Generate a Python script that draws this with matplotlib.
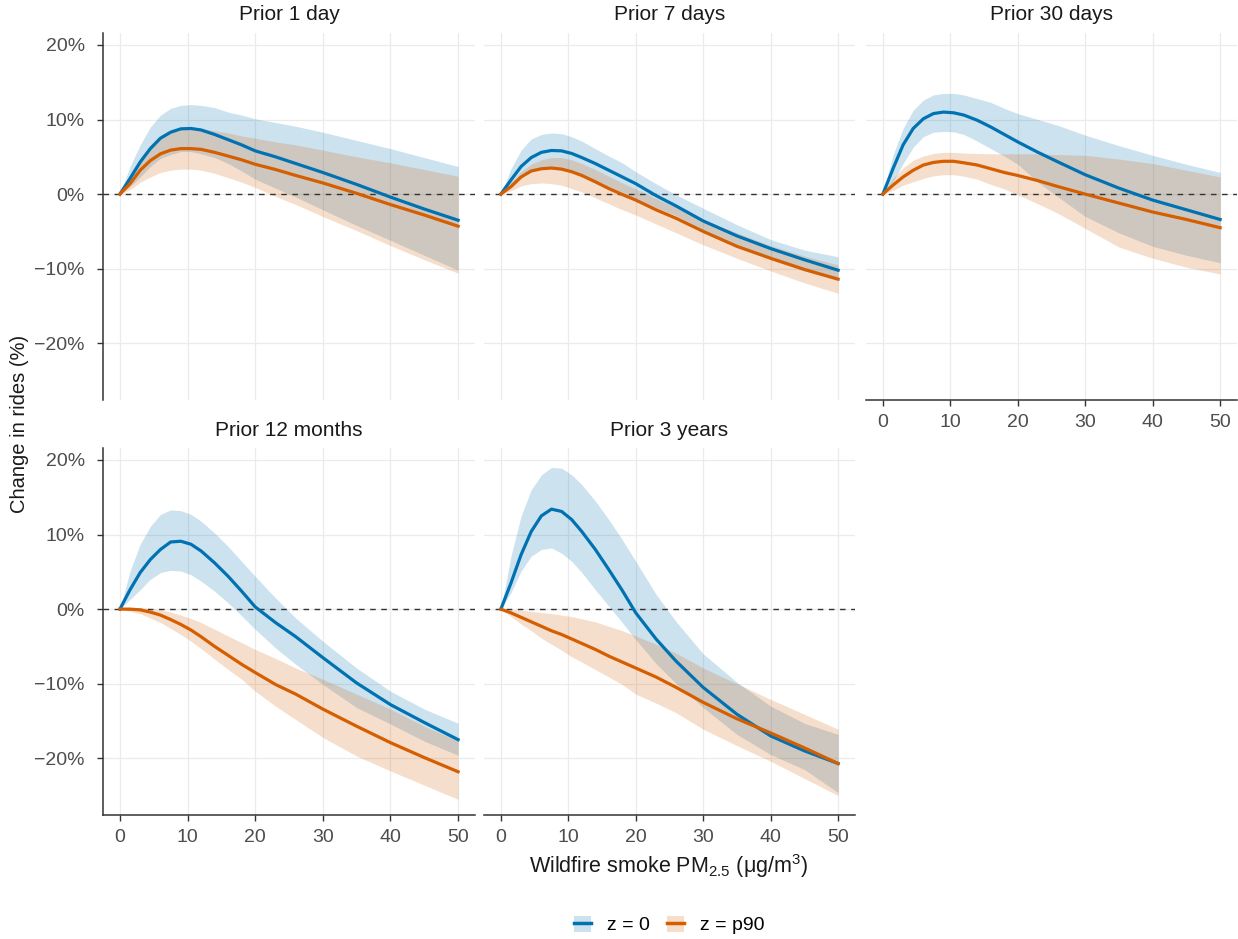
import matplotlib
matplotlib.use('Agg')
import matplotlib.pyplot as plt
from matplotlib.patches import Patch
from matplotlib.lines import Line2D

plt.rcParams['font.family'] = ['Liberation Sans', 'DejaVu Sans']

# smoke PM2.5 values where curves were read
pm = [0, 1.5, 3, 4.5, 6, 7.5, 9, 10.5, 12, 14, 16, 18, 20, 23, 26, 30, 35, 40, 45, 50]

titles = ['Prior 1 day', 'Prior 7 days', 'Prior 30 days', 'Prior 12 months', 'Prior 3 years']

# z = 0 : estimate, lower, upper (%)
z0_fit = [
    [0, 2.1, 4.3, 6.1, 7.5, 8.3, 8.75, 8.8, 8.6, 8.0, 7.3, 6.6, 5.8, 5.0, 4.1, 2.9, 1.3, -0.4, -2.0, -3.5],
    [0, 1.9, 3.7, 4.9, 5.6, 5.85, 5.8, 5.45, 4.9, 4.1, 3.2, 2.3, 1.4, -0.2, -1.6, -3.6, -5.6, -7.3, -8.8, -10.2],
    [0, 3.4, 6.6, 8.8, 10.1, 10.8, 11.0, 10.9, 10.6, 9.9, 9.0, 8.0, 7.0, 5.6, 4.3, 2.6, 0.8, -0.8, -2.1, -3.4],
    [0, 2.6, 4.9, 6.65, 8.0, 9.0, 9.1, 8.7, 7.8, 6.2, 4.4, 2.4, 0.3, -1.8, -3.7, -6.5, -9.9, -12.8, -15.2, -17.5],
    [0, 3.5, 7.3, 10.4, 12.5, 13.4, 13.1, 12.0, 10.4, 8.0, 5.3, 2.5, -0.5, -4.0, -7.0, -10.5, -14.1, -17.0, -19.0, -20.7],
]
z0_lo = [
    [0, 1.0, 2.3, 3.7, 4.8, 5.3, 5.7, 5.7, 5.4, 4.9, 4.1, 3.1, 2.0, 0.8, -0.4, -2.1, -4.2, -6.2, -8.2, -10.2],
    [0, 1.2, 2.3, 3.0, 3.4, 3.5, 3.4, 3.1, 2.6, 1.8, 1.0, 0.2, -0.6, -1.8, -2.9, -4.8, -7.0, -8.8, -10.3, -11.6],
    [0, 1.65, 4.1, 6.3, 7.7, 8.3, 8.4, 8.35, 8.0, 7.1, 6.1, 5.1, 4.0, 1.6, -0.4, -3.0, -5.2, -7.0, -8.2, -9.2],
    [0, 1.3, 2.6, 4.0, 4.9, 5.2, 5.1, 4.6, 3.75, 2.4, 0.85, -0.9, -2.7, -5.2, -7.4, -10.1, -13.2, -15.4, -17.7, -19.6],
    [0, 2.2, 5.1, 7.1, 8.0, 8.2, 7.5, 6.4, 4.9, 2.6, 0.4, -1.8, -4.1, -7.3, -10.0, -13.2, -16.8, -19.5, -21.5, -24.6],
]
z0_hi = [
    [0, 3.7, 6.6, 9.0, 10.6, 11.5, 11.9, 12.0, 11.9, 11.6, 11.0, 10.6, 10.1, 9.6, 9.1, 8.3, 7.2, 6.1, 4.9, 3.7],
    [0, 3.4, 5.9, 7.4, 8.0, 8.2, 8.1, 7.7, 7.1, 6.1, 5.1, 4.2, 3.0, 1.4, -0.1, -1.9, -4.1, -6.1, -7.5, -8.4],
    [0, 5.2, 8.8, 11.25, 12.6, 13.3, 13.5, 13.5, 13.3, 12.8, 12.3, 11.5, 10.8, 10.0, 9.2, 7.9, 6.5, 5.2, 4.0, 2.9],
    [0, 5.1, 8.7, 11.1, 12.7, 13.3, 13.2, 12.7, 11.8, 10.2, 8.4, 6.4, 4.4, 1.5, -1.2, -4.3, -7.9, -11.0, -13.4, -15.3],
    [0, 7.1, 12.5, 16.0, 18.0, 19.0, 18.9, 18.0, 16.7, 14.5, 12.0, 9.3, 6.4, 2.0, -1.7, -6.0, -9.8, -13.0, -15.3, -16.8],
]

# z = p90 : estimate, lower, upper (%)
p90_fit = [
    [0, 1.4, 3.2, 4.5, 5.4, 5.9, 6.1, 6.1, 6.0, 5.6, 5.1, 4.6, 4.0, 3.3, 2.5, 1.5, 0.1, -1.4, -2.8, -4.3],
    [0, 1.0, 2.3, 3.1, 3.4, 3.5, 3.35, 3.0, 2.5, 1.65, 0.75, -0.05, -0.8, -2.1, -3.25, -5.0, -7.0, -8.6, -10.1, -11.4],
    [0, 1.2, 2.3, 3.2, 3.9, 4.25, 4.4, 4.4, 4.2, 3.9, 3.4, 2.9, 2.5, 1.8, 1.0, 0.0, -1.2, -2.4, -3.4, -4.5],
    [0, 0.0, -0.1, -0.4, -0.8, -1.4, -2.05, -2.8, -3.7, -5.0, -6.2, -7.4, -8.5, -10.1, -11.4, -13.4, -15.7, -17.9, -19.9, -21.8],
    [0, -0.5, -1.1, -1.7, -2.3, -2.9, -3.4, -4.0, -4.6, -5.4, -6.3, -7.1, -7.9, -9.1, -10.5, -12.5, -14.7, -16.6, -18.6, -20.7],
]
p90_lo = [
    [0, 0.6, 1.6, 2.3, 2.9, 3.2, 3.35, 3.35, 3.2, 2.8, 2.2, 1.6, 0.9, -0.3, -1.4, -3.0, -4.9, -6.9, -8.8, -10.6],
    [0, 0.45, 1.1, 1.4, 1.5, 1.4, 1.2, 0.75, 0.3, -0.5, -1.3, -2.1, -2.8, -4.0, -5.2, -6.8, -8.6, -10.3, -11.9, -13.3],
    [0, 0.5, 1.2, 1.65, 2.1, 2.45, 2.6, 2.6, 2.4, 2.0, 1.3, 0.7, -0.1, -1.3, -2.6, -4.6, -7.1, -8.6, -9.8, -10.7],
    [0, -0.3, -0.6, -1.2, -1.8, -2.6, -3.4, -4.3, -5.3, -6.7, -8.1, -9.4, -11.0, -13.0, -14.8, -17.2, -19.7, -21.7, -23.6, -25.5],
    [0, -1.0, -2.0, -2.9, -3.9, -4.7, -5.5, -6.4, -7.1, -8.1, -9.1, -10.1, -11.4, -12.6, -13.9, -16.1, -18.3, -20.4, -22.7, -25.0],
]
p90_hi = [
    [0, 2.6, 4.8, 6.6, 7.8, 8.5, 8.9, 8.9, 8.8, 8.5, 8.2, 7.8, 7.5, 7.0, 6.6, 5.9, 5.0, 4.2, 3.3, 2.4],
    [0, 1.6, 3.0, 4.0, 4.6, 4.9, 4.9, 4.6, 4.1, 3.3, 2.4, 1.5, 0.7, -0.6, -1.8, -3.4, -5.2, -6.9, -8.3, -9.5],
    [0, 2.1, 3.5, 4.55, 5.1, 5.45, 5.6, 5.6, 5.5, 5.45, 5.4, 5.4, 5.4, 5.4, 5.3, 5.2, 4.7, 4.1, 3.2, 2.3],
    [0, 0.2, 0.2, 0.1, -0.1, -0.4, -0.8, -1.25, -1.8, -2.7, -3.6, -4.5, -5.4, -6.6, -7.9, -9.4, -11.4, -13.4, -15.7, -17.7],
    [0, -0.05, -0.15, -0.3, -0.45, -0.6, -0.8, -1.0, -1.3, -1.7, -2.3, -2.9, -3.6, -4.7, -5.9, -7.9, -10.0, -12.1, -14.1, -16.1],
]

blue = '#0072B2'
orange = '#D55E00'
axis_col = '#333333'
grid_col = '#EBEBEB'
tick_col = '#4D4D4D'

W, H = 1238, 939
fig = plt.figure(figsize=(W / 100, H / 100), dpi=100)

# panel boxes in pixels: left, right, top, bottom
boxes = [
    (103, 475, 33, 400),
    (484, 855, 33, 400),
    (866, 1237, 33, 400),
    (103, 475, 448, 815),
    (484, 855, 448, 815),
]
show_left = [True, False, False, True, False]
show_bottom = [False, False, True, True, True]

yt = [-20, -10, 0, 10, 20]
yt_lab = ['\u221220%', '\u221210%', '0%', '10%', '20%']
xt = [0, 10, 20, 30, 40, 50]

for i, (l, r, t, b) in enumerate(boxes):
    ax = fig.add_axes([l / W, 1 - b / H, (r - l) / W, (b - t) / H])
    ax.set_xlim(-2.5, 52.5)
    ax.set_ylim(-27.6, 21.6)
    for v in xt:
        ax.axvline(v, color=grid_col, lw=0.9, zorder=0)
    for v in yt:
        ax.axhline(v, color=grid_col, lw=0.9, zorder=0)
    ax.fill_between(pm, z0_lo[i], z0_hi[i], color=blue, alpha=0.2, lw=0, zorder=1)
    ax.fill_between(pm, p90_lo[i], p90_hi[i], color=orange, alpha=0.2, lw=0, zorder=1)
    ax.axhline(0, color='#333333', lw=1.0, ls=(0, (4, 4)), zorder=2)
    ax.plot(pm, z0_fit[i], color=blue, lw=2.3, zorder=3, solid_joinstyle='round')
    ax.plot(pm, p90_fit[i], color=orange, lw=2.3, zorder=3, solid_joinstyle='round')

    for s in ax.spines.values():
        s.set_visible(False)
    ax.spines['left'].set_visible(show_left[i])
    ax.spines['bottom'].set_visible(show_bottom[i])
    ax.spines['left'].set_color(axis_col)
    ax.spines['bottom'].set_color(axis_col)
    ax.spines['left'].set_linewidth(1.1)
    ax.spines['bottom'].set_linewidth(1.1)

    ax.set_xticks(xt)
    ax.set_yticks(yt)
    ax.tick_params(axis='x', bottom=show_bottom[i], labelbottom=show_bottom[i],
                   length=4, width=1, color=axis_col, labelsize=14, labelcolor=tick_col, pad=6)
    ax.tick_params(axis='y', left=show_left[i], labelleft=show_left[i],
                   length=4, width=1, color=axis_col, labelsize=14, labelcolor=tick_col, pad=9)
    ax.set_yticklabels(yt_lab)
    ax.set_title(titles[i], fontsize=15, color='#1A1A1A', pad=9)

fig.text(20 / W, 1 - 424 / H, 'Change in rides (%)', rotation=90,
         ha='center', va='center', fontsize=14.5, color='#1A1A1A')
fig.text(669 / W, 1 - 866 / H, 'Wildfire smoke PM$_{\\mathregular{2.5}}$ (\u03bcg/m$^{\\mathregular{3}}$)',
         ha='center', va='center', fontsize=15.5, color='#1A1A1A')

handles = [
    (Patch(facecolor=blue, alpha=0.2, lw=0), Line2D([], [], color=blue, lw=2.5)),
    (Patch(facecolor=orange, alpha=0.2, lw=0), Line2D([], [], color=orange, lw=2.5)),
]
fig.legend(handles, ['z = 0', 'z = p90'], loc='center', bbox_to_anchor=(669 / W, 1 - 925 / H),
           ncol=2, frameon=False, fontsize=14, handlelength=0.9, handleheight=0.9,
           columnspacing=0.9, handletextpad=0.8)

fig.savefig('out.png', dpi=100)
